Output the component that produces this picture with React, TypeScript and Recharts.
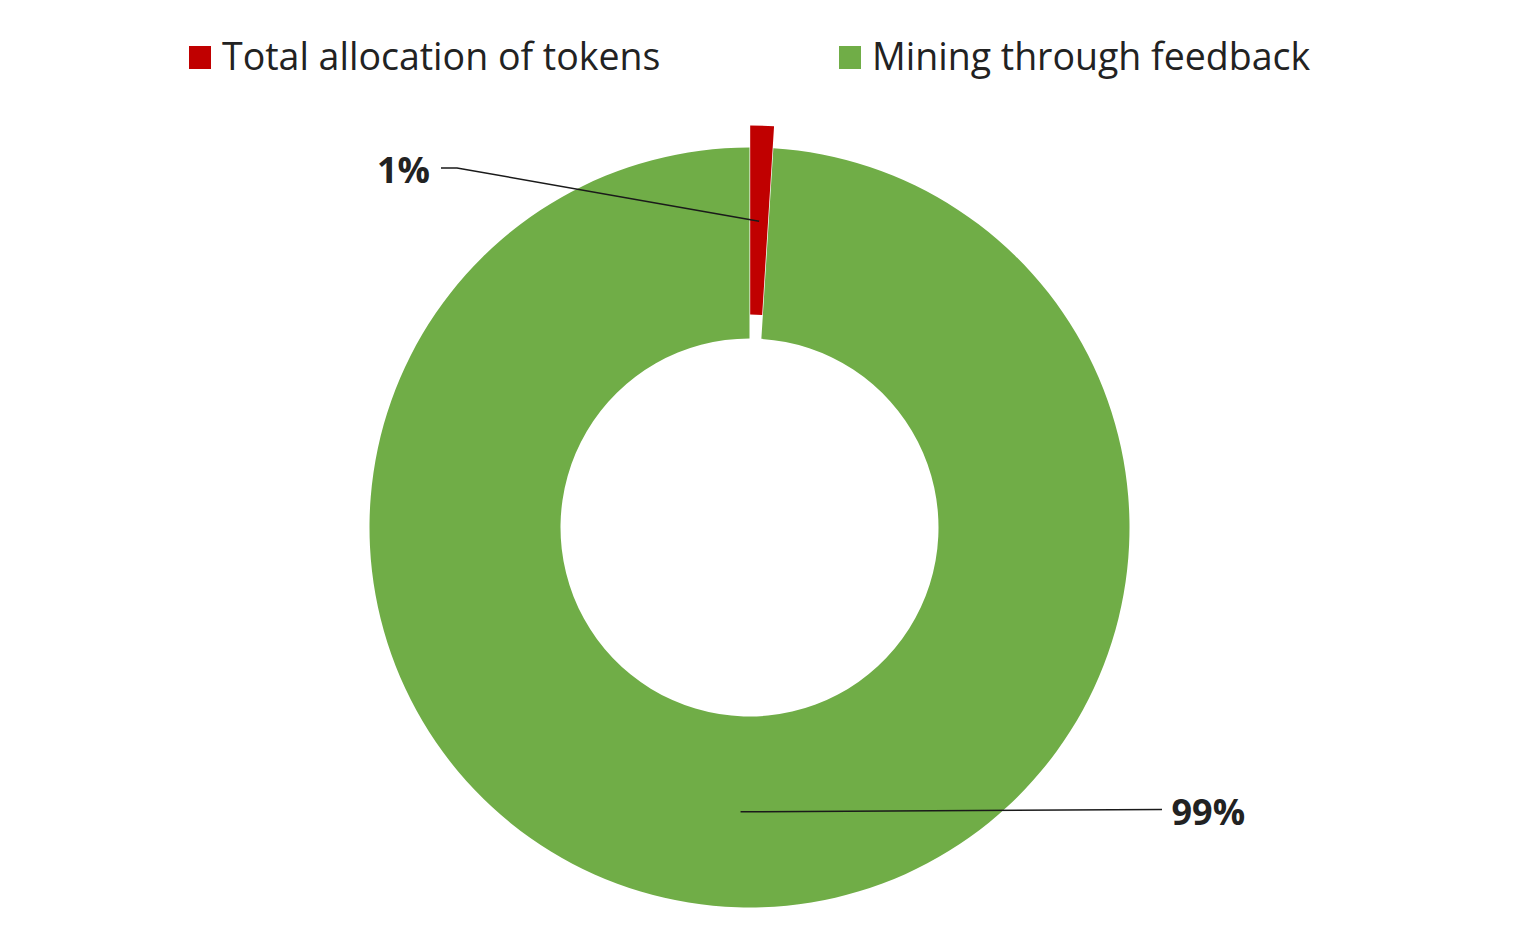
import React from 'react';
import { PieChart, Pie, Cell } from 'recharts';

const categories = ['Total allocation of tokens', 'Mining through feedback'];
const values = [1, 99];
const colors = ['#C00000', '#70AD47'];

const data = categories.map((name, i) => ({ name, value: values[i] }));

const W = 1517;
const H = 923;
const CX = 741.5;
const CY = 519.5;
const INNER = 189;
const OUTER = 380;
const EXPLODE = 22;
const START = 90;
const END = -270;
const RAD = Math.PI / 180;

const total = values.reduce((a, b) => a + b, 0);
const redMid = START - (values[0] / total) * 360 / 2;
const exDx = EXPLODE * Math.cos(redMid * RAD);
const exDy = -EXPLODE * Math.sin(redMid * RAD);

const TEXT = '#222222';
const FONT = '"Open Sans", sans-serif';

const renderLabel = (props: any) => {
  const { cx, cy, midAngle, innerRadius, outerRadius, index, percent } = props;
  const r = (innerRadius + outerRadius) / 2;
  const ox = index === 0 ? exDx : 0;
  const oy = index === 0 ? exDy : 0;
  const px = cx + ox + r * Math.cos(-midAngle * RAD);
  const py = cy + oy + r * Math.sin(-midAngle * RAD);
  const txt = `${Math.round(percent * 100)}%`;
  if (index === 0) {
    return (
      <g key={`lbl-${index}`}>
        <polyline
          points={`${px},${py} 449,160 433,160`}
          fill="none"
          stroke="#1a1a1a"
          strokeWidth={1.5}
        />
        <text x={422} y={175} textAnchor="end" fontFamily={FONT} fontWeight={700} fontSize={36} fill={TEXT}>
          {txt}
        </text>
      </g>
    );
  }
  return (
    <g key={`lbl-${index}`}>
      <polyline
        points={`${px},${py} 1154,801.5`}
        fill="none"
        stroke="#1a1a1a"
        strokeWidth={1.5}
      />
      <text x={1163.5} y={817} textAnchor="start" fontFamily={FONT} fontWeight={700} fontSize={36} fill={TEXT}>
        {txt}
      </text>
    </g>
  );
};

const legendX = [181, 831];

export default function App() {
  return (
    <div style={{ position: 'relative', width: W, height: H }}>
      <PieChart width={W} height={H} margin={{ top: 0, right: 0, bottom: 0, left: 0 }}>
        <Pie
          data={data}
          dataKey="value"
          nameKey="name"
          cx={CX}
          cy={CY}
          innerRadius={INNER}
          outerRadius={OUTER}
          startAngle={START}
          endAngle={END}
          stroke="none"
          isAnimationActive={false}
          label={renderLabel}
          labelLine={false}
        >
          {data.map((d, i) => (
            <Cell key={d.name} fill={colors[i]} fillOpacity={i === 0 ? 0 : 1} />
          ))}
        </Pie>
        <Pie
          data={data}
          dataKey="value"
          nameKey="name"
          cx={CX + exDx}
          cy={CY + exDy}
          innerRadius={INNER + 2}
          outerRadius={OUTER}
          startAngle={START}
          endAngle={END}
          stroke="none"
          isAnimationActive={false}
          legendType="none"
        >
          {data.map((d, i) => (
            <Cell key={d.name} fill={colors[i]} fillOpacity={i === 0 ? 1 : 0} />
          ))}
        </Pie>
      </PieChart>
      <svg width={W} height={90} style={{ position: 'absolute', left: 0, top: 0 }}>
        {categories.map((c, i) => (
          <g key={c}>
            <rect x={legendX[i]} y={38} width={22} height={23} fill={colors[i]} />
            <text x={legendX[i] + 33} y={61.5} fontFamily={FONT} fontSize={37.5} fill={TEXT}>
              {c}
            </text>
          </g>
        ))}
      </svg>
    </div>
  );
}
